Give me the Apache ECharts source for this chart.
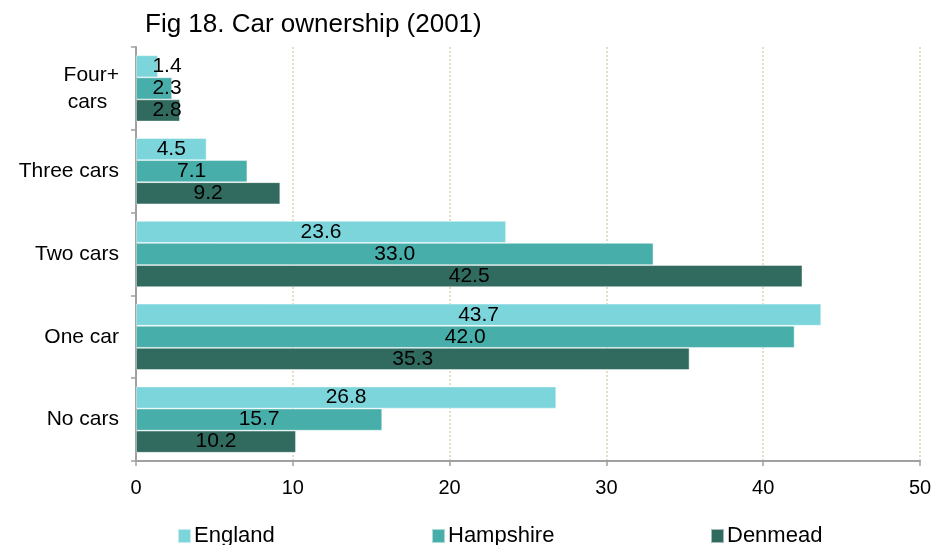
<!DOCTYPE html>
<html>
<head>
<meta charset="utf-8">
<script src="https://cdn.jsdelivr.net/npm/echarts@6/dist/echarts.min.js"></script>
<style>html,body{margin:0;padding:0;background:#fff}#c{width:937px;height:545px}</style>
</head>
<body>
<div id="c"></div>
<script>
const titleText = 'Fig 18. Car ownership (2001)';
const categories = ['Four+\ncars', 'Three cars', 'Two cars', 'One car', 'No cars'];
const seriesNames = ['England', 'Hampshire', 'Denmead'];
const england = [1.4, 4.5, 23.6, 43.7, 26.8];
const hampshire = [2.3, 7.1, 33.0, 42.0, 15.7];
const denmead = [2.8, 9.2, 42.5, 35.3, 10.2];
const xTicks = [0, 10, 20, 30, 40, 50];

const colors = ['#7dd5dc', '#48aeaa', '#316b5f'];
const FONT = 'Liberation Sans';
const chart = echarts.init(document.getElementById('c'), null, {renderer: 'canvas'});

function mkSeries(name, vals, color) {
  return {
    name: name,
    type: 'bar',
    barGap: '0%',
    barCategoryGap: '20%',
    itemStyle: {color: color, borderColor: 'rgba(255,255,255,0.55)', borderWidth: 0.8},
    data: vals.map(v => ({
      value: v,
      label: v < 3 ? {position: [31, '50%'], align: 'center', verticalAlign: 'middle'} : {}
    })),
    label: {
      show: true, position: 'inside', color: '#000',
      fontFamily: FONT, fontSize: 21,
      formatter: p => p.value.toFixed(1)
    }
  };
}

const legendPos = [177, 431, 710];

chart.setOption({
  animation: false,
  title: {
    text: titleText, left: 140, top: 7,
    textStyle: {fontFamily: FONT, fontSize: 26, fontWeight: 'normal', color: '#000'}
  },
  legend: seriesNames.map((n, i) => ({
    data: [n], left: legendPos[i], top: 525, padding: 0, itemWidth: 13, itemHeight: 14, itemGap: 0,
    icon: 'rect',
    textStyle: {fontFamily: FONT, fontSize: 22, color: '#000', padding: [0, 0, 0, -2]}
  })),
  grid: {left: 136, right: 17, top: 47, bottom: 84, containLabel: false},
  xAxis: {
    type: 'value', min: 0, max: 50, interval: 10,
    axisLine: {show: true, lineStyle: {color: '#a0a0a0', width: 2}},
    axisTick: {show: true, length: 5, lineStyle: {color: '#a0a0a0', width: 1.5}},
    axisLabel: {fontFamily: FONT, fontSize: 20, color: '#000', margin: 17,
      formatter: v => xTicks.includes(v) ? String(v) : ''},
    splitLine: {show: true, lineStyle: {color: '#d9d3b0', type: [2, 2], width: 1.5}}
  },
  yAxis: {
    type: 'category', inverse: true, data: categories,
    axisLine: {show: true, lineStyle: {color: '#a0a0a0', width: 2}},
    axisTick: {show: true, length: 5, lineStyle: {color: '#a0a0a0', width: 1.5}},
    axisLabel: {fontFamily: FONT, fontSize: 21, color: '#000', margin: 17, lineHeight: 27,
      formatter: v => v === 'Four+\ncars' ? 'Four+\ncars  ' : v}
  },
  series: [
    mkSeries(seriesNames[0], england, colors[0]),
    mkSeries(seriesNames[1], hampshire, colors[1]),
    mkSeries(seriesNames[2], denmead, colors[2])
  ]
});
</script>
</body>
</html>
